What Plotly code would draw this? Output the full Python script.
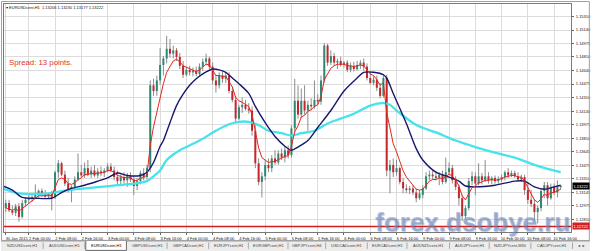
import plotly.graph_objects as go

# ---------------- data (EURUSDcent, H1, 30 Jan 17:00 .. 10 Feb 18:00) ----------------
bar_index = list(range(170))

opens = [1.1295,1.1301,1.1292,1.1289,1.1297,1.1284,1.1301,1.1305,1.1307,1.1308,
         1.1313,1.1316,1.1312,1.1309,1.1312,1.1308,1.1339,1.1350,1.1336,1.1325,
         1.1317,1.1321,1.1330,1.1339,1.1335,1.1344,1.1336,1.1341,1.1335,1.1340,
         1.1338,1.1341,1.1346,1.1341,1.1333,1.1328,1.1333,1.1329,1.1334,1.1330,
         1.1322,1.1328,1.1338,1.1333,1.1344,1.1446,1.1439,1.1452,1.1471,1.1479,
         1.1491,1.1485,1.1489,1.1481,1.1470,1.1459,1.1465,1.1462,1.1464,1.1460,
         1.1469,1.1475,1.1479,1.1469,1.1452,1.1446,1.1458,1.1454,1.1458,1.1439,
         1.1428,1.1405,1.1419,1.1422,1.1417,1.1415,1.1390,1.1350,1.1327,1.1334,
         1.1348,1.1344,1.1356,1.1351,1.1362,1.1357,1.1366,1.1360,1.1393,1.1427,
         1.1410,1.1427,1.1415,1.1422,1.1420,1.1428,1.1426,1.1452,1.1495,1.1474,
         1.1482,1.1474,1.1476,1.1471,1.1474,1.1465,1.1470,1.1466,1.1471,1.1474,
         1.1469,1.1455,1.1449,1.1453,1.1443,1.1433,1.1455,1.1341,1.1348,1.1339,
         1.1344,1.1327,1.1319,1.1317,1.1319,1.1314,1.1307,1.1311,1.1319,1.1334,
         1.1336,1.1334,1.1332,1.1336,1.1327,1.1339,1.1344,1.1329,1.1321,1.1307,
         1.1285,1.1295,1.1328,1.1334,1.1325,1.1334,1.1329,1.1334,1.1329,1.1332,
         1.1328,1.1330,1.1333,1.1339,1.1335,1.1338,1.1334,1.1330,1.1333,1.1317,
         1.1305,1.1300,1.1290,1.1295,1.1316,1.1323,1.1307,1.1321,1.1314,1.13206]

highs = [1.1305,1.1305,1.1298,1.1300,1.1301,1.1305,1.1308,1.1311,1.1312,1.1324,
         1.1318,1.1319,1.1317,1.1314,1.1316,1.1341,1.1354,1.1352,1.1341,1.1332,
         1.1323,1.1334,1.1362,1.1348,1.1351,1.1354,1.1346,1.1348,1.1344,1.1346,
         1.1344,1.1350,1.1350,1.1346,1.1341,1.1336,1.1339,1.1338,1.1339,1.1334,
         1.1332,1.1341,1.1344,1.1348,1.1452,1.1454,1.1458,1.1492,1.1482,1.1507,
         1.1503,1.1495,1.1492,1.1486,1.1476,1.1469,1.1470,1.1468,1.1469,1.1473,
         1.1479,1.1485,1.1481,1.1474,1.1459,1.1462,1.1464,1.1462,1.1462,1.1444,
         1.1433,1.1422,1.1431,1.1428,1.1424,1.1420,1.1397,1.1356,1.1339,1.1354,
         1.1356,1.1360,1.1366,1.1366,1.1368,1.1371,1.1372,1.1397,1.1454,1.1446,
         1.1442,1.1446,1.1427,1.1430,1.1452,1.1435,1.1458,1.1498,1.1497,1.1489,
         1.1486,1.1479,1.1481,1.1476,1.1477,1.1474,1.1475,1.1476,1.1477,1.1479,
         1.1473,1.1462,1.1457,1.1458,1.1449,1.1460,1.1459,1.1354,1.1356,1.1354,
         1.1346,1.1332,1.1324,1.1322,1.1323,1.1319,1.1317,1.1323,1.1339,1.1341,
         1.1341,1.1340,1.1339,1.1341,1.1357,1.1351,1.1348,1.1334,1.1324,1.1311,
         1.1298,1.1332,1.1340,1.1339,1.1350,1.1338,1.1354,1.1339,1.1334,1.1335,
         1.1334,1.1336,1.1341,1.1344,1.1341,1.1341,1.1339,1.1336,1.1336,1.1327,
         1.1317,1.1306,1.1298,1.1319,1.1327,1.1327,1.1325,1.1325,1.1329,1.13230]

lows = [1.1290,1.1290,1.1286,1.1285,1.1278,1.1282,1.1297,1.1301,1.1303,1.1306,
        1.1308,1.1309,1.1307,1.1306,1.1292,1.1306,1.1332,1.1334,1.1322,1.1314,
        1.1302,1.1317,1.1328,1.1332,1.1332,1.1334,1.1332,1.1333,1.1332,1.1334,
        1.1333,1.1339,1.1339,1.1329,1.1324,1.1323,1.1325,1.1321,1.1327,1.1311,
        1.1317,1.1324,1.1329,1.1330,1.1339,1.1433,1.1433,1.1447,1.1458,1.1473,
        1.1480,1.1479,1.1476,1.1466,1.1455,1.1457,1.1458,1.1457,1.1457,1.1458,
        1.1464,1.1471,1.1466,1.1447,1.1437,1.1442,1.1449,1.1449,1.1436,1.1425,
        1.1399,1.1403,1.1412,1.1415,1.1411,1.1384,1.1344,1.1323,1.1308,1.1329,
        1.1339,1.1339,1.1348,1.1348,1.1354,1.1351,1.1356,1.1357,1.1388,1.1405,
        1.1406,1.1410,1.1390,1.1415,1.1417,1.1422,1.1422,1.1449,1.1470,1.1471,
        1.1470,1.1466,1.1469,1.1468,1.1462,1.1462,1.1463,1.1464,1.1466,1.1464,
        1.1452,1.1447,1.1446,1.1439,1.1430,1.1431,1.1334,1.1313,1.1333,1.1335,
        1.1324,1.1313,1.1313,1.1312,1.1311,1.1302,1.1305,1.1307,1.1317,1.1329,
        1.1330,1.1329,1.1323,1.1324,1.1325,1.1335,1.1325,1.1317,1.1298,1.1279,
        1.1282,1.1292,1.1323,1.1311,1.1323,1.1324,1.1327,1.1325,1.1324,1.1325,
        1.1325,1.1327,1.1329,1.1332,1.1333,1.1332,1.1328,1.1327,1.1311,1.1300,
        1.1296,1.1280,1.1276,1.1291,1.1307,1.1298,1.1305,1.1311,1.1308,1.13177]

closes = [1.1301,1.1292,1.1289,1.1297,1.1284,1.1301,1.1305,1.1307,1.1308,1.1313,
          1.1316,1.1312,1.1309,1.1312,1.1308,1.1339,1.1350,1.1336,1.1325,1.1317,
          1.1321,1.1330,1.1339,1.1335,1.1344,1.1336,1.1341,1.1335,1.1340,1.1338,
          1.1341,1.1346,1.1341,1.1333,1.1328,1.1333,1.1329,1.1334,1.1330,1.1322,
          1.1328,1.1338,1.1333,1.1344,1.1446,1.1439,1.1452,1.1471,1.1479,1.1491,
          1.1485,1.1489,1.1481,1.1470,1.1459,1.1465,1.1462,1.1464,1.1460,1.1469,
          1.1475,1.1479,1.1469,1.1452,1.1446,1.1458,1.1454,1.1458,1.1439,1.1428,
          1.1405,1.1419,1.1422,1.1417,1.1415,1.1390,1.1350,1.1327,1.1334,1.1348,
          1.1344,1.1356,1.1351,1.1362,1.1357,1.1366,1.1360,1.1393,1.1427,1.1410,
          1.1427,1.1415,1.1422,1.1420,1.1428,1.1426,1.1452,1.1495,1.1474,1.1482,
          1.1474,1.1476,1.1471,1.1474,1.1465,1.1470,1.1466,1.1471,1.1474,1.1469,
          1.1455,1.1449,1.1453,1.1443,1.1433,1.1455,1.1341,1.1348,1.1339,1.1344,
          1.1327,1.1319,1.1317,1.1319,1.1314,1.1307,1.1313,1.1319,1.1334,1.1336,
          1.1334,1.1332,1.1336,1.1327,1.1339,1.1344,1.1329,1.1321,1.1307,1.1285,
          1.1295,1.1328,1.1334,1.1325,1.1334,1.1329,1.1334,1.1329,1.1332,1.1328,
          1.1330,1.1333,1.1339,1.1335,1.1338,1.1334,1.1330,1.1333,1.1317,1.1305,
          1.1300,1.1290,1.1295,1.1316,1.1323,1.1307,1.1321,1.1314,1.13206,1.13222]

# fast MA (red), one value per bar
ma_fast = [1.1295,1.1294,1.1292,1.1294,1.1291,1.1294,1.1297,1.1301,1.1303,1.1307,
           1.1310,1.1310,1.1310,1.1311,1.1310,1.1320,1.1330,1.1332,1.1330,1.1325,
           1.1324,1.1326,1.1330,1.1332,1.1336,1.1336,1.1338,1.1337,1.1338,1.1338,
           1.1339,1.1341,1.1341,1.1339,1.1335,1.1334,1.1332,1.1333,1.1332,1.1329,
           1.1329,1.1332,1.1332,1.1336,1.1372,1.1395,1.1414,1.1433,1.1448,1.1462,
           1.1470,1.1476,1.1478,1.1475,1.1470,1.1468,1.1466,1.1465,1.1463,1.1465,
           1.1469,1.1472,1.1471,1.1465,1.1458,1.1458,1.1457,1.1457,1.1451,1.1444,
           1.1431,1.1427,1.1425,1.1423,1.1420,1.1410,1.1390,1.1369,1.1357,1.1354,
           1.1351,1.1352,1.1352,1.1355,1.1356,1.1359,1.1359,1.1371,1.1389,1.1396,
           1.1407,1.1409,1.1414,1.1416,1.1420,1.1422,1.1432,1.1453,1.1460,1.1467,
           1.1470,1.1472,1.1472,1.1472,1.1470,1.1470,1.1469,1.1470,1.1471,1.1470,
           1.1465,1.1460,1.1458,1.1453,1.1446,1.1449,1.1413,1.1391,1.1374,1.1364,
           1.1352,1.1341,1.1333,1.1328,1.1324,1.1318,1.1317,1.1318,1.1323,1.1328,
           1.1330,1.1330,1.1332,1.1331,1.1333,1.1337,1.1334,1.1330,1.1322,1.1310,
           1.1305,1.1312,1.1320,1.1322,1.1326,1.1327,1.1329,1.1329,1.1330,1.1329,
           1.1330,1.1331,1.1333,1.1334,1.1335,1.1335,1.1333,1.1333,1.1328,1.1320,
           1.1313,1.1305,1.1302,1.1306,1.1312,1.1310,1.1314,1.1314,1.1316,1.1318]

# medium MA (navy)
ma_mid_index = [-1,2,5,9,14,17,20,24,28,31,34,37,41,43,45,47,48,50,52,54,56,58,60,63,65,67,69,71,74,76,
                79,82,85,87,89,92,95,99,103,107,109,112,115,116,118,122,125,127,131,135,138,140,143,149,
                155,158,161,164,167,169]
ma_mid = [1.1322,1.1317,1.1308,1.1307,1.1307,1.1314,1.1319,1.1323,1.1328,1.1332,1.1338,1.1335,1.1335,
          1.1339,1.1351,1.1371,1.1378,1.1400,1.1421,1.1435,1.1446,1.1454,1.1460,1.1466,1.1465,1.1462,
          1.1455,1.1448,1.1436,1.1420,1.1400,1.1383,1.1371,1.1366,1.1370,1.1378,1.1394,1.1415,1.1439,
          1.1455,1.1462,1.1462,1.1459,1.1455,1.1436,1.1399,1.1368,1.1354,1.1339,1.1333,1.1328,1.1322,
          1.1321,1.1323,1.1328,1.1328,1.1321,1.1318,1.1321,1.1323]

# slow MA (cyan)
ma_slow_index = [-1,4,13,19,24,29,34,39,43,45,47,49,53,56,59,64,68,71,74,77,80,84,87,90,94,98,102,106,
                 111,115,117,119,125,131,137,143,149,155,161,165,169]
ma_slow = [1.1319,1.1313,1.1313,1.1317,1.1319,1.1321,1.1323,1.1325,1.1328,1.1334,1.1341,1.1354,1.1366,
           1.1372,1.1378,1.1390,1.1398,1.1401,1.1401,1.1397,1.1390,1.1387,1.1384,1.1387,1.1390,1.1399,
           1.1405,1.1411,1.1421,1.1424,1.1422,1.1415,1.1397,1.1388,1.1378,1.1370,1.1363,1.1357,1.1348,
           1.1343,1.1339]

alert_level = 1.12722
last_price = 1.13222

time_tick_index = [0,7,15,23,31,39,47,55,63,71,79,87,95,103,111,119,127,135,143,151,159,167]
time_tick_text = ["30 Jan 2015","2 Feb 00:00","2 Feb 08:00","2 Feb 16:00","3 Feb 00:00","3 Feb 08:00",
                  "3 Feb 16:00","4 Feb 00:00","4 Feb 08:00","4 Feb 16:00","5 Feb 00:00","5 Feb 08:00",
                  "5 Feb 16:00","6 Feb 00:00","6 Feb 08:00","6 Feb 16:00","9 Feb 00:00","9 Feb 08:00",
                  "9 Feb 16:00","10 Feb 00:00","10 Feb 08:00","10 Feb 16:00"]
price_ticks = [1.15310,1.15140,1.14975,1.14810,1.14640,1.14475,1.14310,1.14140,1.13975,1.13810,
               1.13645,1.13475,1.13310,1.13145,1.12975,1.12810,1.12645]

tab_names = ["NZDUSDcent,H1","AUDUSDcent,H1","EURUSDcent,H1","GBPUSDcent,H1","GBPCADcent,H1",
             "EURJPYcent,H1","EURGBPcent,H1","GBPJPYcent,H4","USDCADcent,H1","EURCADcent,H1",
             "AUDNZDcent,H1","AUDJPYcent,H1","NZDJPYcent,M30","CADJPYcent,H1"]
active_tab = 2

# ---------------- layout geometry (pixels) ----------------
W, H = 594, 251
PL, PR, PT, PB = 3, 575, 3, 232


def xp(px):
    return (px - PL) / (PR - PL)


def yp(py):
    return (PB - py) / (PB - PT)


# ---------------- traces ----------------
wx, wy = [], []
ux, uy, dx, dy = [], [], [], []
for i, o, h, l, c in zip(bar_index, opens, highs, lows, closes):
    wx += [i, i, None]
    wy += [l, h, None]
    if c >= o:
        ux += [i, i, None]
        uy += [o, c, None]
    else:
        dx += [i, i, None]
        dy += [o, c, None]

fig = go.Figure()
fig.add_trace(go.Scatter(x=wx, y=wy, mode="lines", line=dict(color="#8c8c8c", width=1),
                         hoverinfo="skip", showlegend=False))
fig.add_trace(go.Scatter(x=ux, y=uy, mode="lines", line=dict(color="#2f8874", width=2),
                         hoverinfo="skip", showlegend=False))
fig.add_trace(go.Scatter(x=dx, y=dy, mode="lines", line=dict(color="#c4262b", width=2),
                         hoverinfo="skip", showlegend=False))
fig.add_trace(go.Scatter(x=ma_slow_index, y=ma_slow, mode="lines",
                         line=dict(color="#45e3ec", width=2.3, shape="spline", smoothing=0.8),
                         hoverinfo="skip", showlegend=False))
fig.add_trace(go.Scatter(x=ma_mid_index, y=ma_mid, mode="lines",
                         line=dict(color="#17176e", width=1.4, shape="spline", smoothing=0.8),
                         hoverinfo="skip", showlegend=False))
fig.add_trace(go.Scatter(x=bar_index, y=ma_fast, mode="lines",
                         line=dict(color="#e3271f", width=1),
                         hoverinfo="skip", showlegend=False))

# x range: first bar centre at px 4.8, 3.3125 px per bar
x_lo = -(4.8 - PL) / 3.3125
x_hi = x_lo + (PR - PL) / 3.3125

small = dict(family="Liberation Sans, Arial, sans-serif", size=4, color="#111")

fig.update_layout(
    width=W, height=H,
    margin=dict(l=PL, r=W - PR, t=PT, b=H - PB),
    paper_bgcolor="white", plot_bgcolor="white",
    showlegend=False,
    xaxis=dict(range=[x_lo, x_hi], tickmode="array", tickvals=time_tick_index, ticktext=time_tick_text,
               tickangle=0, tickfont=small, ticks="outside", ticklen=2, tickcolor="#666",
               ticklabelshift=11, ticklabelstandoff=0,
               showgrid=True, gridcolor="#dcdcdc", gridwidth=1, zeroline=False,
               showline=True, linecolor="#7a7a7a", linewidth=1, mirror=True, fixedrange=True),
    yaxis=dict(range=[1.12654, 1.15461], side="right", tickmode="array", tickvals=price_ticks,
               ticktext=["%.5f" % v for v in price_ticks], tickfont=small, ticks="outside", ticklen=2,
               tickcolor="#666", ticklabelstandoff=1,
               showgrid=True, gridcolor="#dcdcdc", gridwidth=1, zeroline=False,
               showline=True, linecolor="#7a7a7a", linewidth=1, mirror=True, fixedrange=True),
)

shapes = []
annotations = []

# alert line
shapes.append(dict(type="line", xref="paper", yref="y", x0=0, x1=1, y0=alert_level, y1=alert_level,
                   line=dict(color="#d21f1f", width=1.4)))

# price boxes on the scale
annotations.append(dict(xref="paper", yref="y", x=1, y=last_price, xanchor="left", yanchor="middle",
                        xshift=1, text="%.5f" % last_price, showarrow=False, bgcolor="#000",
                        borderpad=0.5, font=dict(family="Liberation Sans, Arial", size=4, color="white")))
annotations.append(dict(xref="paper", yref="y", x=1, y=alert_level, xanchor="left", yanchor="middle",
                        xshift=1, text="%.5f" % alert_level, showarrow=False, bgcolor="#d21f1f",
                        borderpad=0.5, font=dict(family="Liberation Sans, Arial", size=4, color="white")))

# title & spread
annotations.append(dict(xref="paper", yref="paper", x=xp(2.5), y=yp(6.5), xanchor="left", yanchor="middle",
                        text="▾ EURUSDcent,H1  1.13206 1.13230 1.13177 1.13222", showarrow=False,
                        font=small))
annotations.append(dict(xref="paper", yref="paper", x=xp(6.5), y=yp(62), xanchor="left", yanchor="middle",
                        text="Spread: 13 points.", showarrow=False,
                        font=dict(family="Liberation Sans, Arial", size=7.8, color="#e0332b")))

# tab bar
shapes.append(dict(type="rect", xref="paper", yref="paper", x0=xp(0), x1=xp(W), y0=yp(H), y1=yp(241),
                   fillcolor="#ececec", line=dict(width=0), layer="below"))
shapes.append(dict(type="line", xref="paper", yref="paper", x0=xp(0), x1=xp(W), y0=yp(241), y1=yp(241),
                   line=dict(color="#9a9a9a", width=1)))
tab_edges = [0, 43, 85, 127, 168, 210, 250, 290, 328, 370, 410, 453, 493, 535, 577]
for k, name in enumerate(tab_names):
    x0, x1 = tab_edges[k], tab_edges[k + 1]
    if k == active_tab:
        shapes.append(dict(type="rect", xref="paper", yref="paper", x0=xp(x0 + 0.5), x1=xp(x1 - 0.5),
                           y0=yp(250.5), y1=yp(240.5), fillcolor="white",
                           line=dict(color="#6a6a6a", width=1)))
    else:
        shapes.append(dict(type="line", xref="paper", yref="paper", x0=xp(x1 - 0.5), x1=xp(x1 - 0.5),
                           y0=yp(249), y1=yp(242.5), line=dict(color="#a8a8a8", width=1)))
    annotations.append(dict(xref="paper", yref="paper", x=xp((x0 + x1) / 2), y=yp(246), xanchor="center",
                            yanchor="middle", text=name, showarrow=False,
                            font=dict(family="Liberation Sans, Arial", size=4,
                                      color="#000" if k == active_tab else "#444")))
annotations.append(dict(xref="paper", yref="paper", x=xp(585.5), y=yp(246), xanchor="center",
                        yanchor="middle", text="◂  ▸", showarrow=False,
                        font=dict(family="DejaVu Sans", size=4, color="#333")))

# window frame
shapes.append(dict(type="rect", xref="paper", yref="paper", x0=xp(0.5), x1=xp(593.5), y0=yp(240.5),
                   y1=yp(0.5), line=dict(color="#a0a0a0", width=1), fillcolor="rgba(0,0,0,0)"))

# watermark
annotations.append(dict(xref="paper", yref="paper", x=xp(476), y=yp(222), xanchor="center",
                        yanchor="middle", text="<b>forex.dsobye.ru</b>", showarrow=False,
                        font=dict(family="Liberation Sans, Arial", size=26,
                                  color="rgba(118,146,200,0.58)",
                                  shadow="1px 1px 1px rgba(40,60,110,0.5)")))

fig.update_layout(shapes=shapes, annotations=annotations)
fig.write_html("out.html")
